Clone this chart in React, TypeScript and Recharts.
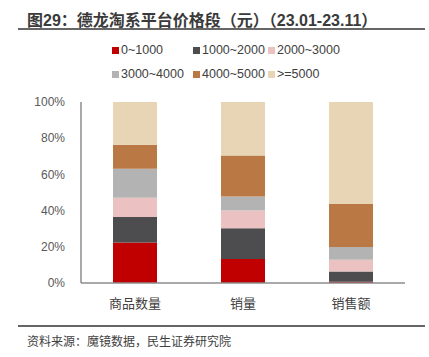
import { Bar, BarChart, XAxis, YAxis } from "recharts";

const categories = ["商品数量", "销量", "销售额"];
const seriesNames = ["0~1000", "1000~2000", "2000~3000", "3000~4000", "4000~5000", ">=5000"];
const seriesColors = ["#C00000", "#4D4D4F", "#EBC1C1", "#B3B3B3", "#BA7844", "#E8D5B5"];

// share of each price band, per category (%)
const band0 = [22.4, 13.3, 0.7];
const band1 = [14.1, 16.9, 5.7];
const band2 = [10.6, 9.9, 6.5];
const band3 = [16.0, 7.7, 7.0];
const band4 = [13.3, 22.7, 23.7];
const band5 = [23.6, 29.5, 56.4];

const yTicks = [0, 20, 40, 60, 80, 100];

const bands = [band0, band1, band2, band3, band4, band5];
const data = categories.map((name, i) => {
  const row: Record<string, string | number> = { name };
  seriesNames.forEach((s, j) => {
    row[s] = bands[j][i];
  });
  return row;
});

const FONT = '"Liberation Sans", Arial, "Noto Sans CJK SC", sans-serif';

const legendX = [112, 193, 268];

const ChartLegend = () => (
  <div style={{ position: "absolute", left: 0, top: 43, width: 429, height: 50, fontFamily: FONT, fontSize: 12.5, color: "#404040" }}>
    {seriesNames.map((s, i) => (
      <div
        key={s}
        style={{
          position: "absolute",
          left: legendX[i % 3],
          top: i < 3 ? 0 : 24,
          display: "flex",
          alignItems: "center",
          whiteSpace: "nowrap",
        }}
      >
        <span style={{ width: 7, height: 7, background: seriesColors[i], marginRight: 2, display: "inline-block" }} />
        <span>{s}</span>
      </div>
    ))}
  </div>
);

export default function App() {
  return (
    <div style={{ position: "absolute", left: 0, top: 0, width: 429, height: 357, background: "#fff", fontFamily: FONT }}>
      <div
        style={{
          position: "absolute",
          left: 27,
          top: 7,
          fontSize: 16,
          fontWeight: "bold",
          color: "#3A3A3A",
          whiteSpace: "nowrap",
        }}
      >
        图29：德龙淘系平台价格段（元）（23.01-23.11）
      </div>
      <div style={{ position: "absolute", left: 18, top: 28, width: 407, height: 2, background: "#666" }} />
      <ChartLegend />
      <BarChart
        width={429}
        height={357}
        data={data}
        margin={{ top: 102, right: 24, bottom: 44, left: 0 }}
        barCategoryGap={32}
      >
        <XAxis
          dataKey="name"
          tickLine={false}
          axisLine={{ stroke: "#8C8C8C", strokeWidth: 1.5 }}
          tick={{ fontSize: 13, fill: "#404040", fontFamily: FONT }}
          tickMargin={10}
          height={30}
        />
        <YAxis
          width={81}
          domain={[0, 100]}
          ticks={yTicks}
          tickFormatter={(v) => `${v}%`}
          tickLine={false}
          axisLine={{ stroke: "#8C8C8C", strokeWidth: 1.5 }}
          tick={{ fontSize: 12, fill: "#595959", fontFamily: FONT }}
          tickMargin={10}
        />
        {seriesNames.map((s, i) => (
          <Bar key={s} dataKey={s} stackId="a" fill={seriesColors[i]} isAnimationActive={false} />
        ))}
      </BarChart>
      <div style={{ position: "absolute", left: 18, top: 325, width: 407, height: 2, background: "#666" }} />
      <div
        style={{
          position: "absolute",
          left: 27,
          top: 332,
          fontSize: 12,
          color: "#404040",
          whiteSpace: "nowrap",
          fontFamily: '"Noto Sans CJK SC", sans-serif',
        }}
      >
        资料来源：魔镜数据，民生证券研究院
      </div>
    </div>
  );
}
